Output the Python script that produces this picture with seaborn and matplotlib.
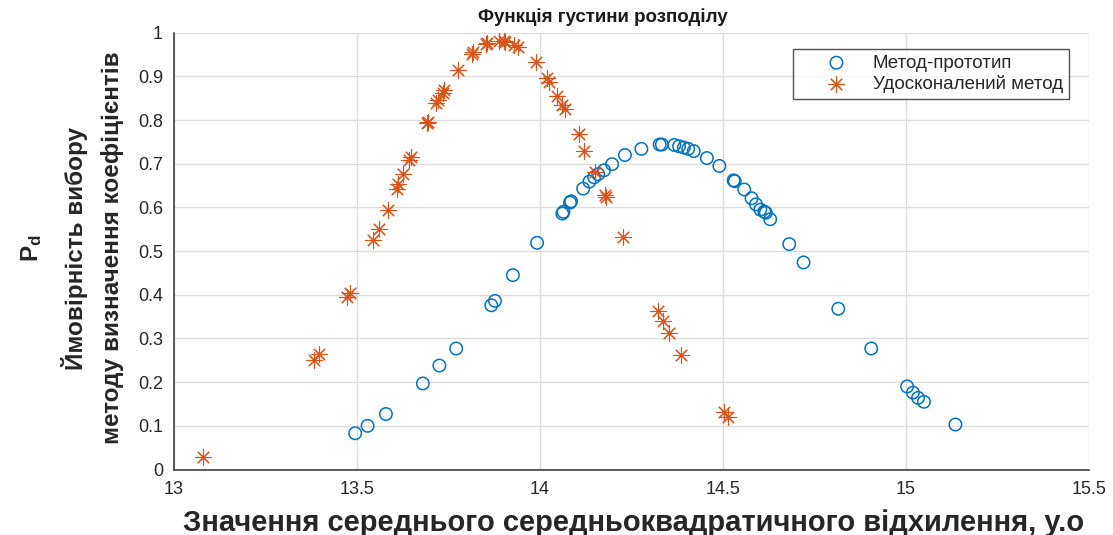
import matplotlib
matplotlib.use("Agg")
import matplotlib.pyplot as plt
import seaborn as sns
import pandas as pd

# Прототип: значення СКВ та ймовірність вибору
proto_x = [13.495, 13.529, 13.579, 13.680, 13.725, 13.771, 13.867, 13.877, 13.926,
           13.992, 14.061, 14.064, 14.082, 14.085, 14.118, 14.135, 14.148, 14.159,
           14.175, 14.197, 14.232, 14.277, 14.327, 14.333, 14.367, 14.380, 14.393,
           14.405, 14.420, 14.456, 14.490, 14.529, 14.532, 14.558, 14.578, 14.590,
           14.602, 14.613, 14.617, 14.629, 14.681, 14.720, 14.815, 14.905, 15.003,
           15.019, 15.033, 15.049, 15.135]
proto_y = [0.083, 0.100, 0.127, 0.197, 0.238, 0.277, 0.376, 0.386, 0.445,
           0.519, 0.586, 0.590, 0.611, 0.614, 0.643, 0.659, 0.669, 0.676,
           0.685, 0.699, 0.720, 0.734, 0.744, 0.744, 0.743, 0.740, 0.737,
           0.734, 0.729, 0.713, 0.695, 0.662, 0.660, 0.641, 0.621, 0.607,
           0.595, 0.590, 0.588, 0.573, 0.516, 0.474, 0.368, 0.277, 0.190,
           0.176, 0.164, 0.155, 0.103]

# Удосконалений метод
improved_x = [13.079, 13.383, 13.396, 13.474, 13.480, 13.545, 13.559, 13.584, 13.608,
              13.613, 13.626, 13.641, 13.648, 13.692, 13.695, 13.717, 13.722, 13.735,
              13.739, 13.776, 13.815, 13.817, 13.852, 13.856, 13.888, 13.901, 13.905,
              13.929, 13.940, 13.990, 14.018, 14.024, 14.047, 14.061, 14.067, 14.107,
              14.121, 14.150, 14.177, 14.181, 14.227, 14.323, 14.336, 14.353, 14.385,
              14.503, 14.515]
improved_y = [0.029, 0.251, 0.264, 0.395, 0.403, 0.525, 0.550, 0.595, 0.643,
              0.653, 0.676, 0.708, 0.716, 0.794, 0.796, 0.838, 0.845, 0.862,
              0.868, 0.914, 0.952, 0.955, 0.974, 0.976, 0.980, 0.981, 0.979,
              0.972, 0.967, 0.932, 0.896, 0.888, 0.856, 0.835, 0.826, 0.768,
              0.730, 0.682, 0.629, 0.624, 0.533, 0.363, 0.339, 0.312, 0.261,
              0.132, 0.121]

labels = ["Метод-прототип", "Удосконалений метод"]
x_ticks = [13, 13.5, 14, 14.5, 15, 15.5]
x_tick_labels = ["13", "13.5", "14", "14.5", "15", "15.5"]
y_ticks = [0, 0.1, 0.2, 0.3, 0.4, 0.5, 0.6, 0.7, 0.8, 0.9, 1]
y_tick_labels = ["0", "0.1", "0.2", "0.3", "0.4", "0.5", "0.6", "0.7", "0.8", "0.9", "1"]

BLUE = "#0072BD"
ORANGE = "#D95319"

sns.set_theme(style="white")
plt.rcParams["font.family"] = ["Liberation Sans", "DejaVu Sans"]
plt.rcParams["mathtext.fontset"] = "custom"
plt.rcParams["mathtext.rm"] = "Liberation Sans"
plt.rcParams["mathtext.bf"] = "Liberation Sans:bold"

fig = plt.figure(figsize=(11.13, 5.35), dpi=100)
ax = fig.add_axes([174 / 1113, 1 - 469.5 / 535, (1089 - 174) / 1113, (469.5 - 32.7) / 535])

df_proto = pd.DataFrame({"x": proto_x, "y": proto_y})
df_impr = pd.DataFrame({"x": improved_x, "y": improved_y})

sns.scatterplot(data=df_proto, x="x", y="y", ax=ax, marker="o", s=80,
                facecolor="none", edgecolor=BLUE, linewidth=1.1,
                label=labels[0], zorder=3)
sns.scatterplot(data=df_impr, x="x", y="y", ax=ax, marker=(8, 2, 0), s=120,
                color=ORANGE, linewidth=0.8, label=labels[1], zorder=3)

ax.set_xlim(13, 15.5)
ax.set_ylim(0, 1)
ax.set_xticks(x_ticks)
ax.set_xticklabels(x_tick_labels)
ax.set_yticks(y_ticks)
ax.set_yticklabels(y_tick_labels)
ax.tick_params(axis="both", direction="in", length=5, width=1, color="#404040",
               labelsize=13, labelcolor="#262626", pad=8)
ax.grid(True, color="#DCDCDC", linewidth=1.0)
ax.set_axisbelow(True)
for side in ("top", "right"):
    ax.spines[side].set_visible(False)
for side in ("left", "bottom"):
    ax.spines[side].set_color("#404040")
    ax.spines[side].set_linewidth(1.2)

ax.set_xlabel("")
ax.set_ylabel("")
fig.text(634 / 1113, 1 - 523 / 535, "Значення середнього середньоквадратичного відхилення, у.о",
         ha="center", va="center", fontsize=21, fontweight="bold", color="#262626")
fig.text(72 / 1113, 1 - 248 / 535,
         "$\\mathbf{P_d}$\nЙмовірність вибору\nметоду визначення коефіцієнтів",
         ha="center", va="center", rotation=90, multialignment="center",
         fontsize=17.5, fontweight="bold", color="#262626", linespacing=1.75)
fig.text(603 / 1113, 1 - 17 / 535, "Функція густини розподілу",
         ha="center", va="center", fontsize=13.5, fontweight="bold", color="#1a1a1a")

leg = ax.legend(loc="upper right", bbox_to_anchor=(0.978, 0.963), borderaxespad=0,
                frameon=True, fancybox=False, edgecolor="#262626", fontsize=13.5,
                handletextpad=-0.05, borderpad=0.3, labelspacing=0.2, handlelength=4.0)
leg.get_frame().set_linewidth(1.0)

fig.savefig("out.png", dpi=100, facecolor="white")
